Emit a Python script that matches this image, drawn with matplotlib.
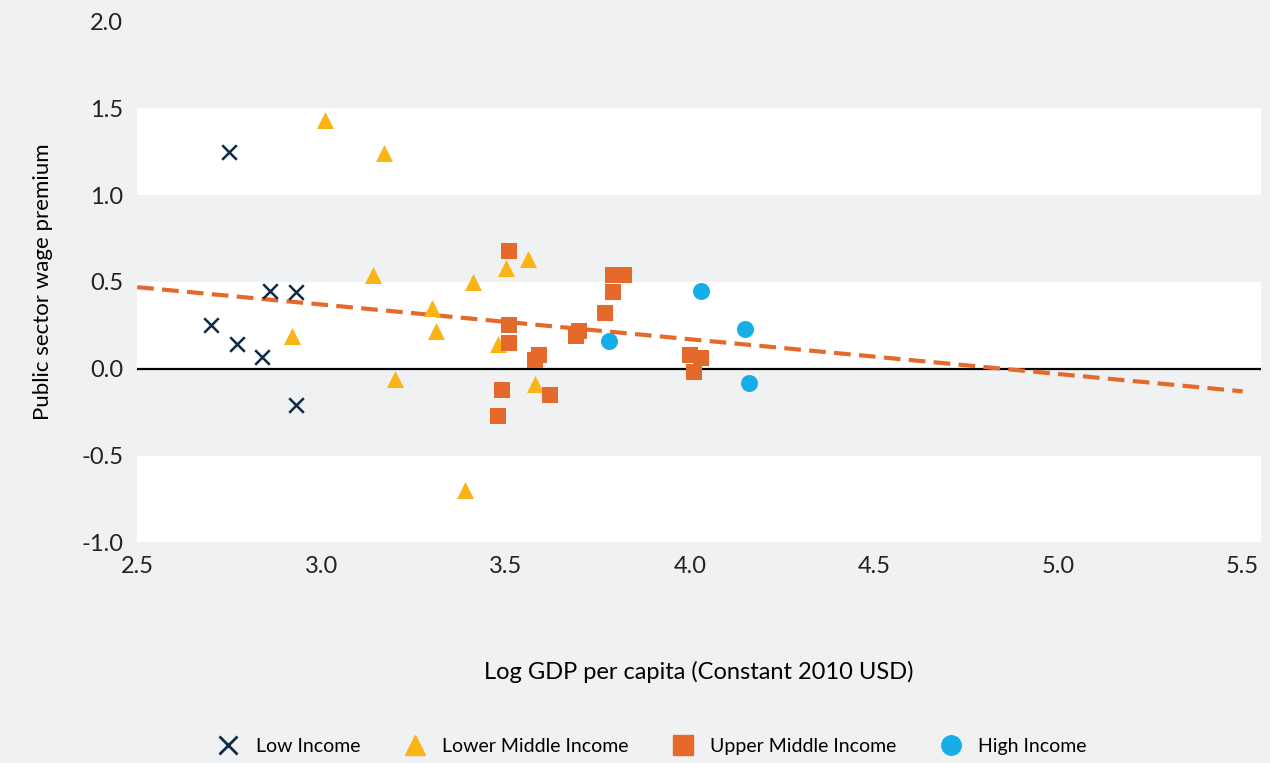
import numpy as np
import matplotlib.pyplot as plt
from matplotlib.lines import Line2D

plt.rcParams['font.family'] = ['Lato', 'DejaVu Sans']

low_x = [2.75, 2.86, 2.93, 2.70, 2.77, 2.84, 2.93]
low_y = [1.25, 0.45, 0.44, 0.25, 0.14, 0.07, -0.21]
lmid_x = [3.01, 3.17, 3.14, 2.92, 3.30, 3.31, 3.41, 3.20, 3.50, 3.56, 3.48, 3.58, 3.39]
lmid_y = [1.43, 1.24, 0.54, 0.19, 0.35, 0.22, 0.50, -0.06, 0.58, 0.63, 0.14, -0.09, -0.70]
umid_x = [3.51, 3.51, 3.51, 3.59, 3.58, 3.49, 3.48, 3.62, 3.69, 3.70, 3.79, 3.82, 3.79, 3.77, 4.00, 4.03, 4.01]
umid_y = [0.68, 0.25, 0.15, 0.08, 0.05, -0.12, -0.27, -0.15, 0.19, 0.22, 0.54, 0.54, 0.44, 0.32, 0.08, 0.06, -0.02]
high_x = [3.78, 4.03, 4.15, 4.16]
high_y = [0.16, 0.45, 0.23, -0.08]
trend_x = [2.5, 5.5]
trend_y = [0.47, -0.13]

bg = '#f0f1f3'
fig = plt.figure(figsize=(12.7, 7.63), dpi=100, facecolor=bg)
ax = fig.add_axes([0.108, 0.289, 0.885, 0.683], facecolor=bg)

for lo, hi in [(1.0, 1.5), (0.0, 0.5), (-1.0, -0.5)]:
    ax.axhspan(lo, hi, color='white', zorder=0, lw=0)
ax.axhline(0, color='black', lw=1.6, zorder=1)

ax.scatter(low_x, low_y, marker='x', s=110, color='#0e2a47', lw=1.8, zorder=3)
ax.scatter(lmid_x, lmid_y, marker='^', s=150, color='#fbb416', lw=0, zorder=3)
ax.scatter(umid_x, umid_y, marker='s', s=130, color='#e5692a', lw=0, zorder=3)
ax.scatter(high_x, high_y, marker='o', s=150, color='#16aee9', lw=0, zorder=3)
ax.plot(trend_x, trend_y, ls=(0, (4, 2)), color='#e5692a', lw=3, zorder=2)

ax.set_xlim(2.5, 5.55)
ax.set_ylim(-1.0, 2.0)
ax.set_xticks(np.arange(2.5, 5.51, 0.5))
ax.set_yticks(np.arange(-1.0, 2.01, 0.5))
ax.set_xticklabels([f'{v:.1f}' for v in np.arange(2.5, 5.51, 0.5)])
ax.set_yticklabels([f'{v:.1f}' for v in np.arange(-1.0, 2.01, 0.5)])
ax.tick_params(length=0, labelsize=17, colors='#222222', pad=10)
for s in ax.spines.values():
    s.set_visible(False)
ax.set_xlabel('Log GDP per capita (Constant 2010 USD)', fontsize=17, labelpad=60)
ax.set_ylabel('Public sector wage premium', fontsize=16, labelpad=20)

handles = [
    Line2D([], [], marker='x', ls='', color='#0e2a47', ms=13, mew=2, label='Low Income'),
    Line2D([], [], marker='^', ls='', color='#fbb416', ms=15, label='Lower Middle Income'),
    Line2D([], [], marker='s', ls='', color='#e5692a', ms=14, label='Upper Middle Income'),
    Line2D([], [], marker='o', ls='', color='#16aee9', ms=14, label='High Income'),
]
fig.legend(handles=handles, loc='lower center', ncol=4, frameon=False, fontsize=14,
           bbox_to_anchor=(0.51, -0.012), columnspacing=1.8, handletextpad=0.4)

fig.savefig('out.png', dpi=100, facecolor=bg)
